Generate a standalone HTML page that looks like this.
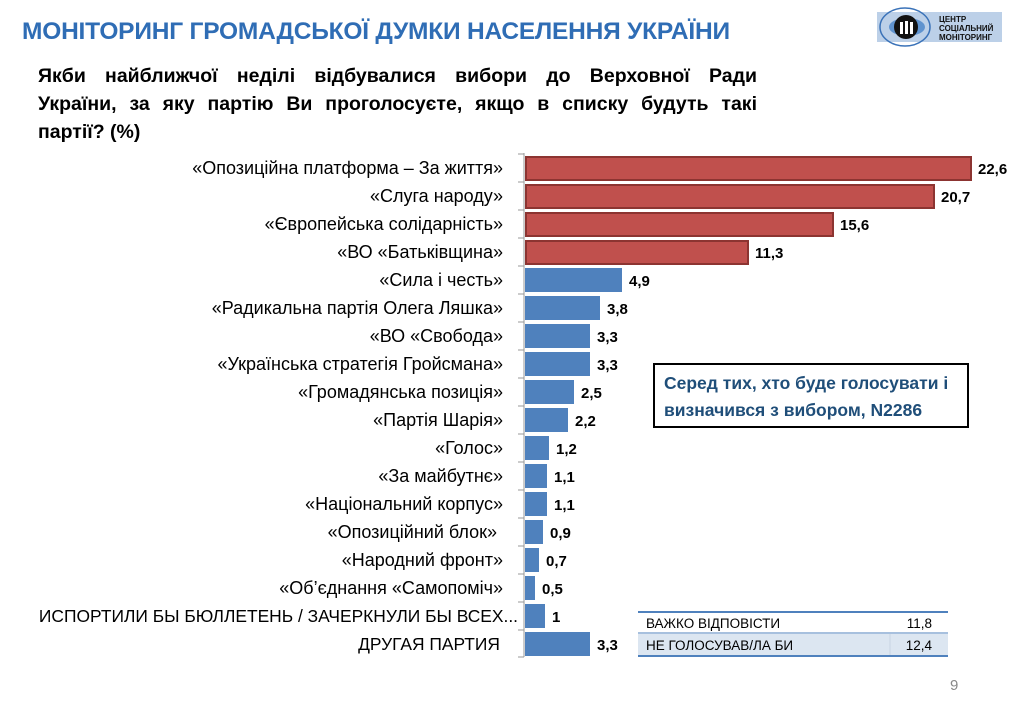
<!DOCTYPE html>
<html><head><meta charset="utf-8"><style>
body{margin:0;width:1024px;height:714px;background:#fff;position:relative;overflow:hidden;font-family:"Liberation Sans","DejaVu Sans",sans-serif}
.t{position:absolute;left:22px;top:18px;font-size:24.5px;font-weight:bold;color:#2f6db5;letter-spacing:-0.2px;white-space:nowrap}
.q{position:absolute;left:38px;width:719px;font-size:19.5px;font-weight:bold;line-height:28px;text-align:justify;text-align-last:justify;color:#000;white-space:nowrap}
</style></head><body>
<div class="t">МОНІТОРИНГ ГРОМАДСЬКОЇ ДУМКИ НАСЕЛЕННЯ УКРАЇНИ</div>
<div class="q" style="top:62px">Якби найближчої неділі відбувалися вибори до Верховної Ради</div>
<div class="q" style="top:90px">України, за яку партію Ви проголосуєте, якщо в списку будуть такі</div>
<div class="q" style="top:118px;text-align-last:left">партії? (%)</div>
<svg width="1024" height="714" style="position:absolute;left:0;top:0" font-family="Liberation Sans, DejaVu Sans, sans-serif">
<rect x="877" y="12" width="125" height="30" fill="#bcd0e8"/>
<ellipse cx="905" cy="27" rx="25" ry="19" fill="none" stroke="#3a72b8" stroke-width="1.5"/>
<ellipse cx="907" cy="27" rx="18" ry="9" fill="#5f93cf"/>
<circle cx="906" cy="27" r="12" fill="#111"/>
<rect x="900" y="22" width="3" height="12" fill="#fff"/><rect x="905" y="21" width="3" height="13" fill="#fff"/><rect x="910" y="22" width="3" height="12" fill="#fff"/>
<text x="939" y="22" font-size="8" font-weight="bold" fill="#111">ЦЕНТР</text>
<text x="939" y="31" font-size="8" font-weight="bold" fill="#111">СОЦІАЛЬНИЙ</text>
<text x="939" y="40" font-size="8" font-weight="bold" fill="#111">МОНІТОРИНГ</text>
<line x1="524" y1="153" x2="524" y2="657" stroke="#999" stroke-width="1"/>
<g stroke="#999">
<line x1="518" y1="154" x2="524" y2="154"/><line x1="518" y1="182" x2="524" y2="182"/><line x1="518" y1="210" x2="524" y2="210"/><line x1="518" y1="238" x2="524" y2="238"/><line x1="518" y1="266" x2="524" y2="266"/><line x1="518" y1="294" x2="524" y2="294"/><line x1="518" y1="322" x2="524" y2="322"/><line x1="518" y1="350" x2="524" y2="350"/><line x1="518" y1="378" x2="524" y2="378"/><line x1="518" y1="406" x2="524" y2="406"/><line x1="518" y1="434" x2="524" y2="434"/><line x1="518" y1="462" x2="524" y2="462"/><line x1="518" y1="490" x2="524" y2="490"/><line x1="518" y1="518" x2="524" y2="518"/><line x1="518" y1="546" x2="524" y2="546"/><line x1="518" y1="574" x2="524" y2="574"/><line x1="518" y1="602" x2="524" y2="602"/><line x1="518" y1="630" x2="524" y2="630"/><line x1="518" y1="657" x2="524" y2="657"/>
</g>
<g stroke="#8c3431" stroke-width="2" fill="#c0504d">
<rect x="526" y="157" width="445" height="23"/>
<rect x="526" y="185" width="408" height="23"/>
<rect x="526" y="213" width="307" height="23"/>
<rect x="526" y="241" width="222" height="23"/>
</g>
<g fill="#4f81bd">
<rect x="525" y="268" width="97" height="24"/>
<rect x="525" y="296" width="75" height="24"/>
<rect x="525" y="324" width="65" height="24"/>
<rect x="525" y="352" width="65" height="24"/>
<rect x="525" y="380" width="49" height="24"/>
<rect x="525" y="408" width="43" height="24"/>
<rect x="525" y="436" width="24" height="24"/>
<rect x="525" y="464" width="22" height="24"/>
<rect x="525" y="492" width="22" height="24"/>
<rect x="525" y="520" width="18" height="24"/>
<rect x="525" y="548" width="14" height="24"/>
<rect x="525" y="576" width="10" height="24"/>
<rect x="525" y="604" width="20" height="24"/>
<rect x="525" y="632" width="65" height="24"/>
</g>
<g font-size="15" font-weight="bold" fill="#000">
<text x="978" y="174">22,6</text><text x="941" y="202">20,7</text><text x="840" y="230">15,6</text><text x="755" y="258">11,3</text>
<text x="629" y="286">4,9</text><text x="607" y="314">3,8</text><text x="597" y="342">3,3</text><text x="597" y="370">3,3</text>
<text x="581" y="398">2,5</text><text x="575" y="426">2,2</text><text x="556" y="454">1,2</text><text x="554" y="482">1,1</text>
<text x="554" y="510">1,1</text><text x="550" y="538">0,9</text><text x="546" y="566">0,7</text><text x="542" y="594">0,5</text>
<text x="552" y="622">1</text><text x="597" y="650">3,3</text>
</g>
<g font-size="18" fill="#000" text-anchor="end">
<text x="503" y="174">«Опозиційна платформа – За життя»</text>
<text x="503" y="202">«Слуга народу»</text>
<text x="503" y="230">«Європейська солідарність»</text>
<text x="503" y="258">«ВО «Батьківщина»</text>
<text x="503" y="286">«Сила і честь»</text>
<text x="503" y="314">«Радикальна партія Олега Ляшка»</text>
<text x="503" y="342">«ВО  «Свобода»</text>
<text x="503" y="370">«Українська стратегія Гройсмана»</text>
<text x="503" y="398">«Громадянська позиція»</text>
<text x="503" y="426">«Партія Шарія»</text>
<text x="503" y="454">«Голос»</text>
<text x="503" y="482">«За майбутнє»</text>
<text x="503" y="510">«Національний корпус»</text>
<text x="497" y="538">«Опозиційний блок»</text>
<text x="503" y="566">«Народний фронт»</text>
<text x="503" y="594">«Об’єднання «Самопоміч»</text>
<text x="518" y="622" font-size="17.4">ИСПОРТИЛИ БЫ БЮЛЛЕТЕНЬ / ЗАЧЕРКНУЛИ БЫ ВСЕХ...</text>
<text x="500" y="650" font-size="17.4">ДРУГАЯ ПАРТИЯ</text>
</g>
<rect x="654" y="364" width="314" height="63" fill="#fff" stroke="#000" stroke-width="2"/>
<text x="664" y="389" font-size="17.5" font-weight="bold" fill="#1f4e79">Серед тих, хто буде голосувати і</text>
<text x="664" y="416" font-size="17.5" font-weight="bold" fill="#1f4e79">визначився з вибором, N2286</text>
<rect x="638" y="634" width="310" height="22" fill="#dce6f1"/>
<line x1="638" y1="612" x2="948" y2="612" stroke="#4f81bd" stroke-width="2"/>
<line x1="638" y1="633" x2="948" y2="633" stroke="#4f81bd" stroke-width="1"/>
<line x1="638" y1="656" x2="948" y2="656" stroke="#4f81bd" stroke-width="2"/>
<line x1="890" y1="634" x2="890" y2="655" stroke="#c8d4e4" stroke-width="1"/>
<g font-size="13.5" fill="#000">
<text x="646" y="628">ВАЖКО ВІДПОВІСТИ</text><text x="932" y="628" text-anchor="end">11,8</text>
<text x="646" y="650">НЕ ГОЛОСУВАВ/ЛА БИ</text><text x="932" y="650" text-anchor="end">12,4</text>
</g>
<text x="950" y="690" font-size="15" fill="#888">9</text>
</svg>
</body></html>
